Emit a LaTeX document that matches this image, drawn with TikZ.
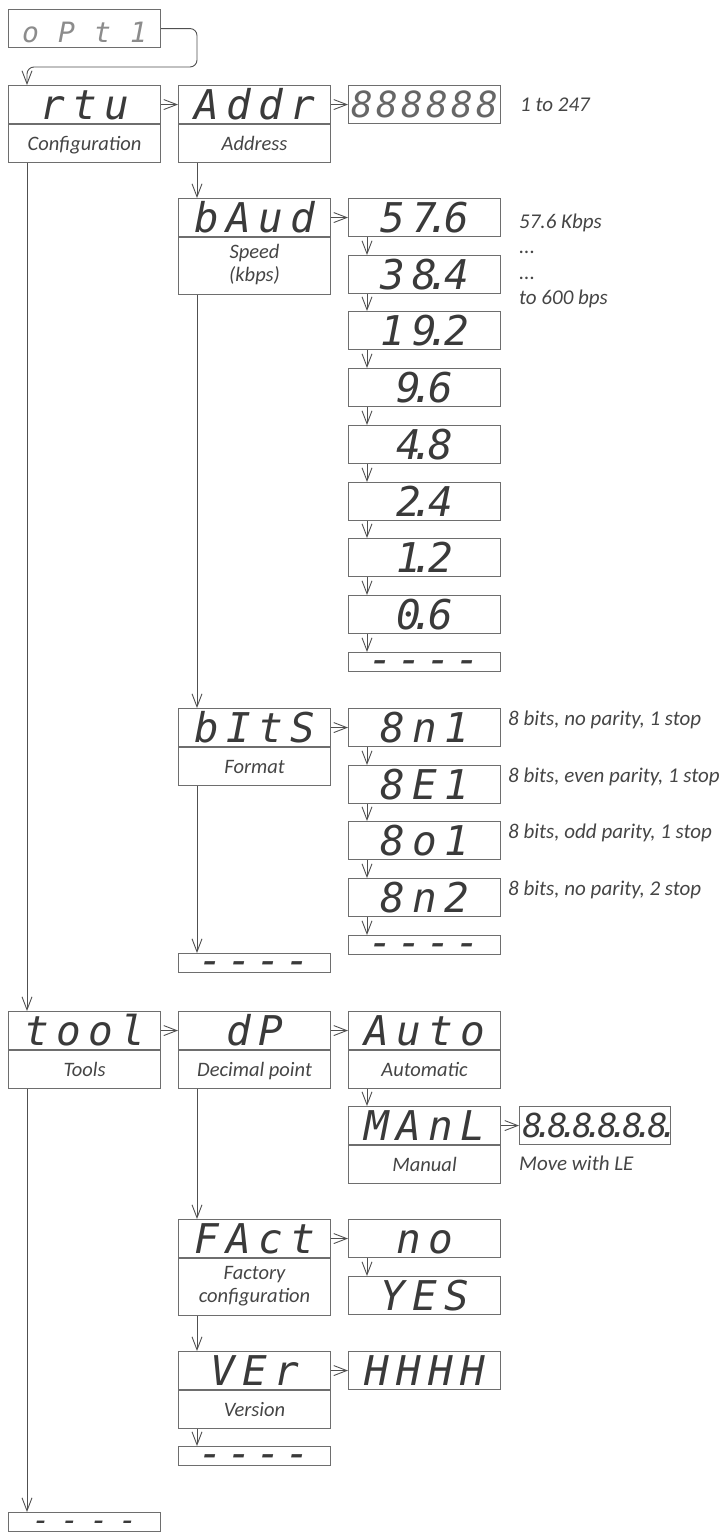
\documentclass[tikz,border=0pt]{standalone}
\usepackage{fontspec}
\setmainfont{Carlito}
\newfontfamily\segfam{DejaVu Sans Mono}
\usetikzlibrary{arrows.meta}
\definecolor{boxc}{HTML}{6E6E6E}
\definecolor{linec}{HTML}{505050}
\definecolor{segc}{HTML}{3A3A3A}
\definecolor{txtc}{HTML}{454545}
\newlength\cw
\makeatletter
\def\seg@end{\seg@end}
\def\segtext#1{\seg@loop#1\seg@end}
\def\seg@loop#1{\ifx\seg@end#1\else\seg@one{#1}\expandafter\seg@loop\fi}
\def\seg@one#1{\if.#1\makebox[0pt]{\kern-.1\cw.}\else\makebox[\cw]{#1}\fi}
\makeatother
\newcommand\dsp[3]{\raisebox{-#1}[0pt][0pt]{\setlength\cw{#2}\segtext{#3}}}
\newcommand\lbl[2]{\raisebox{-#1}[0pt][0pt]{#2}}
\newcommand\lbltwo[3]{\raisebox{-#1}[0pt][0pt]{\begin{tabular}[b]{@{}c@{}}#2\\#3\end{tabular}}}
\begin{document}
\begin{tikzpicture}[x=1pt,y=-1pt,
  base/.style={draw=boxc, line width=1.1pt, inner sep=0pt, anchor=north west, minimum width=152pt},
  disp/.style={base, minimum height=38pt, text=segc, font=\segfam\itshape\fontsize{41}{41}\selectfont},
  lab/.style={base, minimum height=38pt, text=txtc, font=\itshape\fontsize{20.5}{23}\selectfont},
  labtwo/.style={lab, minimum height=57pt},
  dbox/.style={base, minimum height=19pt, text=segc, font=\segfam\itshape\fontsize{41}{41}\selectfont},
  note/.style={anchor=base west, inner sep=0pt, text=txtc, font=\itshape\fontsize{21}{23}\selectfont},
  arr/.style={draw=linec, line width=0.9pt, -{Straight Barb[length=13pt,width=10pt]}}
]
\useasboundingbox (0,0) rectangle (726,1537);

% ---- top
\node[disp, text=black!45, font=\segfam\itshape\fontsize{28}{28}\selectfont] (opt) at (8,9) {\dsp{14pt}{36pt}{oPt1}};

% ---- column A
\node[disp] (rtu) at (8,85) {\dsp{15pt}{32pt}{rtu}};
\node[lab] (rtuL) at (rtu.south west) {\lbl{7pt}{Configuration}};
\node[disp] (tool) at (8,1011) {\dsp{15pt}{32pt}{tool}};
\node[lab] (toolL) at (tool.south west) {\lbl{7pt}{Tools}};
\node[dbox, font=\segfam\itshape\fontsize{30}{30}\selectfont] (endA) at (8,1512) {\dsp{8pt}{29pt}{----}};

% ---- column B
\node[disp] (addr) at (178,85) {\dsp{15pt}{32pt}{Addr}};
\node[lab] (addrL) at (addr.south west) {\lbl{7pt}{Address}};
\node[disp] (baud) at (178,198) {\dsp{15pt}{32pt}{bAud}};
\node[labtwo] (baudL) at (baud.south west) {\lbltwo{15pt}{Speed}{(kbps)}};
\node[disp] (bits) at (178,708) {\dsp{15pt}{32pt}{bItS}};
\node[lab] (bitsL) at (bits.south west) {\lbl{7pt}{Format}};
\node[dbox] (endB1) at (178,953) {\dsp{11pt}{29pt}{----}};
\node[disp] (dp) at (178,1011) {\dsp{15pt}{32pt}{dP}};
\node[lab] (dpL) at (dp.south west) {\lbl{7pt}{Decimal point}};
\node[disp] (fact) at (178,1219) {\dsp{15pt}{32pt}{FAct}};
\node[labtwo] (factL) at (fact.south west) {\lbltwo{15pt}{Factory}{configuration}};
\node[disp] (ver) at (178,1351) {\dsp{15pt}{32pt}{VEr}};
\node[lab] (verL) at (ver.south west) {\lbl{7pt}{Version}};
\node[dbox] (endB2) at (178,1446) {\dsp{11pt}{29pt}{----}};

% ---- column C
\node[disp, text=black!60, font=\segfam\itshape\fontsize{36}{36}\selectfont] (v888) at (348,85) {\dsp{13pt}{25pt}{888888}};
\node[disp] (s1) at (348,198) {\dsp{15pt}{32pt}{57.6}};
\node[disp] (s2) at (348,255) {\dsp{15pt}{32pt}{38.4}};
\node[disp] (s3) at (348,311) {\dsp{15pt}{32pt}{19.2}};
\node[disp] (s4) at (348,368) {\dsp{15pt}{32pt}{9.6}};
\node[disp] (s5) at (348,425) {\dsp{15pt}{32pt}{4.8}};
\node[disp] (s6) at (348,482) {\dsp{15pt}{32pt}{2.4}};
\node[disp] (s7) at (348,538) {\dsp{15pt}{32pt}{1.2}};
\node[disp] (s8) at (348,595) {\dsp{15pt}{32pt}{0.6}};
\node[dbox] (endC1) at (348,652) {\dsp{11pt}{29pt}{----}};
\node[disp] (f1) at (348,708) {\dsp{15pt}{32pt}{8n1}};
\node[disp] (f2) at (348,765) {\dsp{15pt}{32pt}{8E1}};
\node[disp] (f3) at (348,821) {\dsp{15pt}{32pt}{8o1}};
\node[disp] (f4) at (348,878) {\dsp{15pt}{32pt}{8n2}};
\node[dbox] (endC2) at (348,935) {\dsp{11pt}{29pt}{----}};
\node[disp] (auto) at (348,1011) {\dsp{15pt}{32pt}{Auto}};
\node[lab] (autoL) at (auto.south west) {\lbl{7pt}{Automatic}};
\node[disp] (manl) at (348,1106) {\dsp{15pt}{32pt}{MAnL}};
\node[lab] (manlL) at (manl.south west) {\lbl{7pt}{Manual}};
\node[disp] (no) at (348,1219) {\dsp{15pt}{32pt}{no}};
\node[disp] (yes) at (348,1276) {\dsp{15pt}{32pt}{YES}};
\node[disp] (hhhh) at (348,1351) {\dsp{15pt}{32pt}{HHHH}};

% ---- column D
\node[disp, minimum width=151pt, font=\segfam\itshape\fontsize{33}{33}\selectfont] (v88) at (519,1106) {\dsp{12pt}{25pt}{8.8.8.8.8.8.}};

% ---- notes
\node[note] (n1) at (520,111.5) {1 to 247};
\node[note] (n2) at (519,228) {57.6 Kbps};
\node[note] (n3) at (519,253.5) {...};
\node[note] (n4) at (519,279) {...};
\node[note] (n5) at (519,304.5) {to 600 bps};
\node[note] (n6) at (508,725) {8 bits, no parity, 1 stop};
\node[note] (n7) at (508,782) {8 bits, even parity, 1 stop};
\node[note] (n8) at (508,838.5) {8 bits, odd parity, 1 stop};
\node[note] (n9) at (508,895) {8 bits, no parity, 2 stop};
\node[note] (n10) at (519,1170) {Move with LE};

% ---- connectors
\coordinate (c1) at (197,67);
\draw[arr, rounded corners=7pt] (opt.east) -| (c1) -| ([xshift=19pt]rtu.north west);

\draw[arr] (rtu.east) -- (addr.west);
\draw[arr] (addr.east) -- (v888.west);
\draw[arr] (baud.east) -- (s1.west);
\draw[arr] (bits.east) -- (f1.west);
\draw[arr] (tool.east) -- (dp.west);
\draw[arr] (dp.east) -- (auto.west);
\draw[arr] (manl.east) -- (v88.west);
\draw[arr] (fact.east) -- (no.west);
\draw[arr] (ver.east) -- (hhhh.west);

\foreach \a/\b in {rtuL/tool, toolL/endA,
  addrL/baud, baudL/bits, bitsL/endB1, dpL/fact, factL/ver, verL/endB2,
  s1/s2, s2/s3, s3/s4, s4/s5, s5/s6, s6/s7, s7/s8, s8/endC1,
  f1/f2, f2/f3, f3/f4, f4/endC2, autoL/manl, no/yes}
  \draw[arr] ([xshift=19pt]\a.south west) -- ([xshift=19pt]\b.north west);
\end{tikzpicture}
\end{document}
